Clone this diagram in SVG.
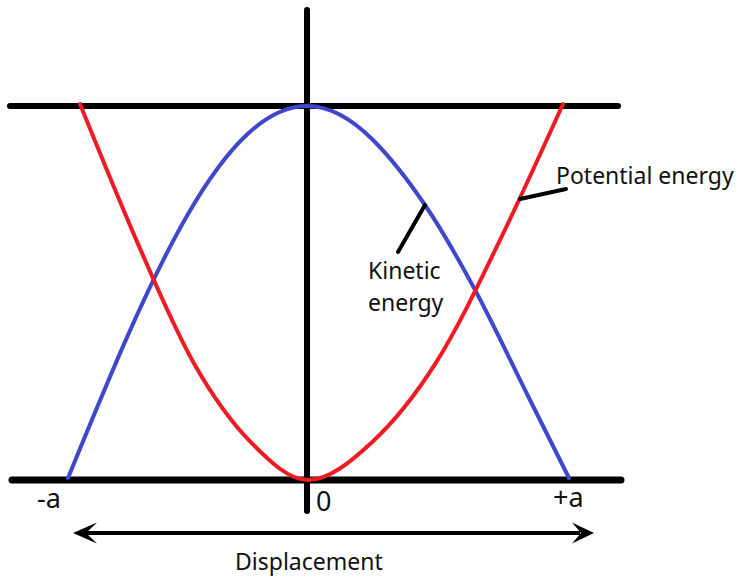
<svg xmlns="http://www.w3.org/2000/svg" width="742" height="580" viewBox="0 0 742 580">
<style>
.ax{stroke:#000;stroke-linecap:round;fill:none}
.cv{fill:none;stroke-width:4;stroke-linecap:round;stroke-linejoin:round}
.ptr{stroke:#000;stroke-width:4;stroke-linecap:round;fill:none}
text{font-family:"Noto Sans","Open Sans","DejaVu Sans",sans-serif;fill:#111}
.lbl{font-size:23px}
.tick{font-size:27px}
</style>
<rect width="742" height="580" fill="#fff"/>
<g id="axes">
<line class="ax" x1="10" y1="106" x2="618" y2="106" stroke-width="6"/>
<line class="ax" x1="12" y1="480" x2="621" y2="480" stroke-width="7"/>
<line class="ax" x1="307" y1="10" x2="307" y2="511" stroke-width="6"/>
</g>
<g id="kinetic-curve">
<path class="cv" stroke="#3f48cc" d="M68,478 C87.92,429.31 107.83,380.63 127.75,335.64 C147.67,290.65 167.58,249.39 187.5,214.96 C207.42,180.53 227.33,152.96 247.25,134.32 C267.17,115.69 287.08,106 307,106 C329,106 351,118 373,140 C390.33,157.33 407.67,179.53 425,205 C441.33,229 457.67,257.79 474,288 C492.67,322.53 511.33,362.67 530,400 C543,426 556,452 569,478"/>
</g>
<g id="potential-curve">
<path class="cv" stroke="#ed1c24" d="M80,104 C99,151 118,197.7 137,241.6 C156,285.5 175,329.9 194,363.44 C213,396.98 232,422.96 251,442.4 C270,461.84 289,480 308,480 C329.24,480 350.51,461.84 371.75,442.4 C393,422.96 414.26,396.98 435.5,363.44 C456.74,329.9 478,285.5 499.25,241.6 C520.5,197.7 541.76,151 563,104"/>
</g>
<g id="connectors">
<line class="ptr" x1="520" y1="199" x2="566" y2="189"/>
<line class="ptr" x1="425" y1="205" x2="398" y2="252"/>
<line x1="85" y1="533" x2="580" y2="533" stroke="#000" stroke-width="4"/>
<polygon points="73,533 97,522.5 86,533 97,543.5" fill="#000"/>
<polygon points="594,533 572,522.5 581,533 572,543.5" fill="#000"/>
</g>
<g id="label-potential"><text class="lbl" x="556" y="184">Potential energy</text></g>
<g id="label-kinetic"><text class="lbl" x="368" y="279">Kinetic</text><text class="lbl" x="368" y="311">energy</text></g>
<g id="label-minus-a"><text class="tick" x="37" y="508">-a</text></g>
<g id="label-zero"><text class="tick" x="316" y="511">0</text></g>
<g id="label-plus-a"><text class="tick" x="553" y="507">+a</text></g>
<g id="label-displacement"><text class="lbl" x="235" y="570">Displacement</text></g>
</svg>
